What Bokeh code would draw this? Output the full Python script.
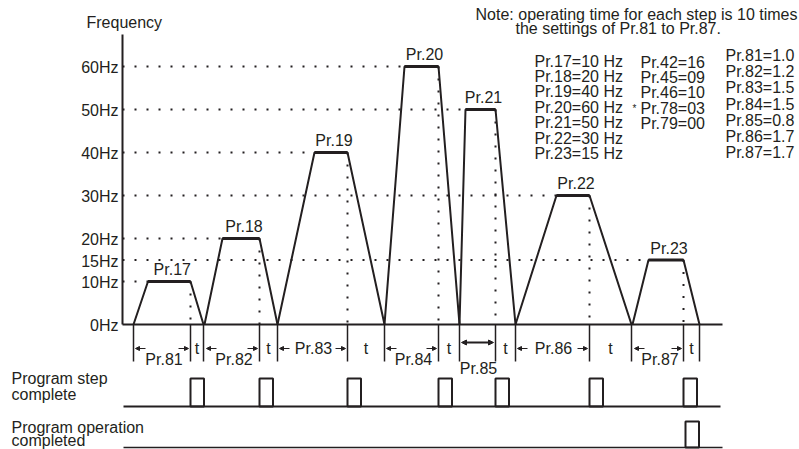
from bokeh.plotting import figure
from bokeh.models import Range1d, Arrow, NormalHead
from bokeh.embed import file_html
from bokeh.resources import INLINE
from bokeh.core.properties import value

# ---------------- data ----------------
level_hz = [60, 50, 40, 30, 20, 15, 10, 0]
level_labels = ["60Hz", "50Hz", "40Hz", "30Hz", "20Hz", "15Hz", "10Hz", "0Hz"]

step_names = ["Pr.17", "Pr.18", "Pr.19", "Pr.20", "Pr.21", "Pr.22", "Pr.23"]
step_hz = [10, 20, 40, 60, 50, 30, 15]
# time marks of each step (diagram time units, 0 at the frequency axis)
accel_start = [11, 82, 155, 262, 337, 393, 510]
plateau_start = [25.5, 100, 192, 282, 343, 434, 526]
plateau_end = [68, 137, 225, 316, 373, 467, 561]
decel_end = [81, 155, 262, 337, 393, 509, 577]
time_end = 600

time_params = ["Pr.81", "Pr.82", "Pr.83", "Pr.84", "Pr.85", "Pr.86", "Pr.87"]
time_settings = ["1.0", "1.2", "1.5", "1.5", "0.8", "1.7", "1.7"]
other_params = ["Pr.42", "Pr.45", "Pr.46", "Pr.78", "Pr.79"]
other_settings = ["16", "09", "10", "03", "00"]

# ---------------- layout helpers (reference pixel -> data) ----------------
AX = 122.0    # x pixel of frequency axis
Z = 324.0     # y pixel of 0 Hz
PXHZ = 4.3    # pixels per Hz


def X(px):
    return px - AX


def Y(py):
    return (Z - py) / PXHZ


INK = "#231f20"
FONT = value("Liberation Sans")
FS = "16px"

p = figure(width=799, height=449, output_backend="svg", toolbar_location=None,
           x_range=Range1d(X(0), X(799)), y_range=Range1d(Y(449), Y(0)),
           min_border=0, outline_line_color=None, background_fill_color="white",
           border_fill_color="white")
p.xaxis.visible = False
p.yaxis.visible = False
p.xgrid.visible = False
p.ygrid.visible = False


def txt(xs, ys, texts, align="left", size=FS):
    p.text(x=xs, y=ys, text=texts, text_font=FONT, text_font_size=size,
           text_align=align, text_baseline="middle", text_color=INK)


DOT = dict(line_dash="2 10", line_width=2, line_color=INK, line_cap="butt")

# dotted guides
p.segment(x0=[0] * len(step_hz), y0=step_hz, x1=plateau_start, y1=step_hz, **DOT)
p.segment(x0=plateau_end, y0=step_hz, x1=plateau_end, y1=[0] * len(step_hz), **DOT)

# axes
p.segment(x0=[0, 0], y0=[0, 0], x1=[0, time_end], y1=[Y(34), 0],
          line_width=2, line_color=INK)

# frequency profile
xs = [[a, b, c, d] for a, b, c, d in zip(accel_start, plateau_start, plateau_end, decel_end)]
ys = [[0, h, h, 0] for h in step_hz]
p.multi_line(xs=xs, ys=ys, line_width=2, line_color=INK)
p.segment(x0=plateau_start, y0=step_hz, x1=plateau_end, y1=step_hz,
          line_width=3, line_color=INK)

# tick labels
txt([X(118)] * len(level_hz), [h - 1 / PXHZ for h in level_hz], level_labels, align="right")
txt([X(86)], [Y(22)], ["Frequency"])

# step labels
txt([(s + e) / 2 + 3 for s, e in zip(plateau_start, plateau_end)],
    [h + 12 / PXHZ for h in step_hz], step_names, align="center")

# dividers under the time axis
divs = [accel_start[0]] + plateau_end + decel_end
p.segment(x0=divs, y0=[0] * len(divs), x1=divs, y1=[Y(361)] * len(divs),
          line_width=1.5, line_color=INK)

# interval labels
styles = ["low", "low", "mid", "low", "below", "mid", "low"]


def head(sz):
    return NormalHead(size=sz, line_color=INK, fill_color=INK, line_width=1)


def small_arrow(x0, x1, y):
    p.add_layout(Arrow(end=head(4), x_start=x0, y_start=y, x_end=x1, y_end=y,
                       line_width=1, line_color=INK))


for i, name in enumerate(time_params):
    a, b = accel_start[i], plateau_end[i]
    c = (a + b) / 2
    st = styles[i]
    if st == "below":
        p.add_layout(Arrow(start=head(5), end=head(5),
                           x_start=a + 2, y_start=Y(342), x_end=b - 2, y_end=Y(342),
                           line_width=2, line_color=INK))
        txt([c + 1], [Y(368)], [name], align="center")
    else:
        small_arrow(a + 12, a + 2, Y(348))
        small_arrow(b - 12, b - 2, Y(348))
        if st == "mid":
            txt([c + 1], [Y(348)], [name], align="center")
        else:
            txt([c + 2], [Y(359)], [name], align="center")

txt([(e + d) / 2 for e, d in zip(plateau_end, decel_end)],
    [Y(348)] * len(plateau_end), ["t"] * len(plateau_end), align="center")

# note
txt([X(797)], [Y(13.5)], ["Note: operating time for each step is 10 times"], align="right")
txt([X(515)], [Y(28)], ["the settings of Pr.81 to Pr.87."])

# parameter table
col1 = [f"{n}={h} Hz" for n, h in zip(step_names, step_hz)]
col2 = [f"{n}={v}" for n, v in zip(other_params, other_settings)]
col3 = [f"{n}={v}" for n, v in zip(time_params, time_settings)]
txt([X(534)] * len(col1), [Y(60.5 + 15.4 * i) for i in range(len(col1))], col1)
txt([X(640)] * len(col2), [Y(61.5 + 15.4 * i) for i in range(len(col2))], col2)
txt([X(725)] * len(col3), [Y(55 + 16.2 * i) for i in range(len(col3))], col3)
txt([X(634)], [Y(61.5 + 15.4 * 3)], ["*"], align="center", size="10px")

# output signals
txt([X(11)], [Y(378)], ["Program step"])
txt([X(11)], [Y(394)], ["complete"])
txt([X(11)], [Y(427)], ["Program operation"])
txt([X(11)], [Y(440)], ["completed"])

p.segment(x0=[X(123), X(123)], y0=[Y(406), Y(447)], x1=[X(720), X(722)],
          y1=[Y(406), Y(447)], line_width=[2, 1.5], line_color=INK)
p.quad(left=plateau_end, right=[e + 13.5 for e in plateau_end],
       bottom=[Y(406)] * len(plateau_end), top=[Y(378)] * len(plateau_end),
       fill_alpha=0, line_width=2, line_color=INK)
p.quad(left=[plateau_end[-1] + 2], right=[plateau_end[-1] + 15.5],
       bottom=[Y(447)], top=[Y(421)], fill_alpha=0, line_width=2, line_color=INK)

open("out.html", "w").write(file_html(p, INLINE))
